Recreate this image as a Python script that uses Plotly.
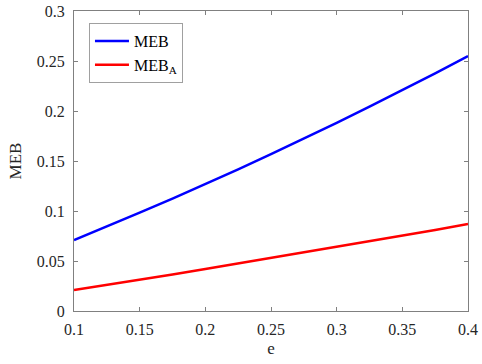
import plotly.graph_objects as go

e_vals = [0.1, 0.125, 0.15, 0.175, 0.2, 0.225, 0.25, 0.275, 0.3, 0.325, 0.35, 0.375, 0.4]
meb = [0.071, 0.0845, 0.0983, 0.1124, 0.1269, 0.1417, 0.1569, 0.1724, 0.1882, 0.2044, 0.2209, 0.2377, 0.255]
meb_a = [0.021, 0.026, 0.031, 0.0365, 0.042, 0.0475, 0.053, 0.0585, 0.064, 0.0695, 0.075, 0.081, 0.087]

x_ticks = [0.1, 0.15, 0.2, 0.25, 0.3, 0.35, 0.4]
x_ticktext = ["0.1", "0.15", "0.2", "0.25", "0.3", "0.35", "0.4"]
y_ticks = [0, 0.05, 0.1, 0.15, 0.2, 0.25, 0.3]
y_ticktext = ["0", "0.05", "0.1", "0.15", "0.2", "0.25", "0.3"]

font_family = "Liberation Serif"

axis_common = dict(
    showline=True, linecolor="#808080", linewidth=1, mirror="allticks",
    ticks="inside", ticklen=4, tickcolor="#808080", showgrid=False, zeroline=False,
    tickfont=dict(family=font_family, size=16, color="#262626"),
    ticklabeloverflow="allow", automargin=False,
)

fig = go.Figure()
fig.add_trace(go.Scatter(x=e_vals, y=meb, mode="lines", name="MEB",
                         line=dict(color="#0000FF", width=2.5)))
fig.add_trace(go.Scatter(x=e_vals, y=meb_a, mode="lines", name="MEB<sub>A</sub>",
                         line=dict(color="#FF0000", width=2.5)))

fig.update_layout(
    width=482, height=364,
    margin=dict(l=74, r=14, t=11, b=53),
    paper_bgcolor="white", plot_bgcolor="white",
    font=dict(family=font_family, size=16, color="#262626"),
    xaxis=dict(range=[0.1, 0.4], tickvals=x_ticks, ticktext=x_ticktext,
               ticklabelstandoff=4,
               title=dict(text="e", font=dict(family=font_family, size=17), standoff=4),
               **axis_common),
    yaxis=dict(range=[0, 0.3], tickvals=y_ticks, ticktext=y_ticktext,
               ticklabelstandoff=5,
               title=dict(text="MEB", font=dict(family=font_family, size=17), standoff=10),
               **axis_common),
    legend=dict(x=0.038, y=0.96, xanchor="left", yanchor="top",
                bgcolor="white", bordercolor="#a0a0a0", borderwidth=1,
                font=dict(family=font_family, size=16, color="black"),
                tracegroupgap=0, itemwidth=34),
    showlegend=True,
)

fig.write_html("out.html", config={"displayModeBar": False},
               post_script="document.body.style.margin='0';document.body.style.overflow='hidden';")
